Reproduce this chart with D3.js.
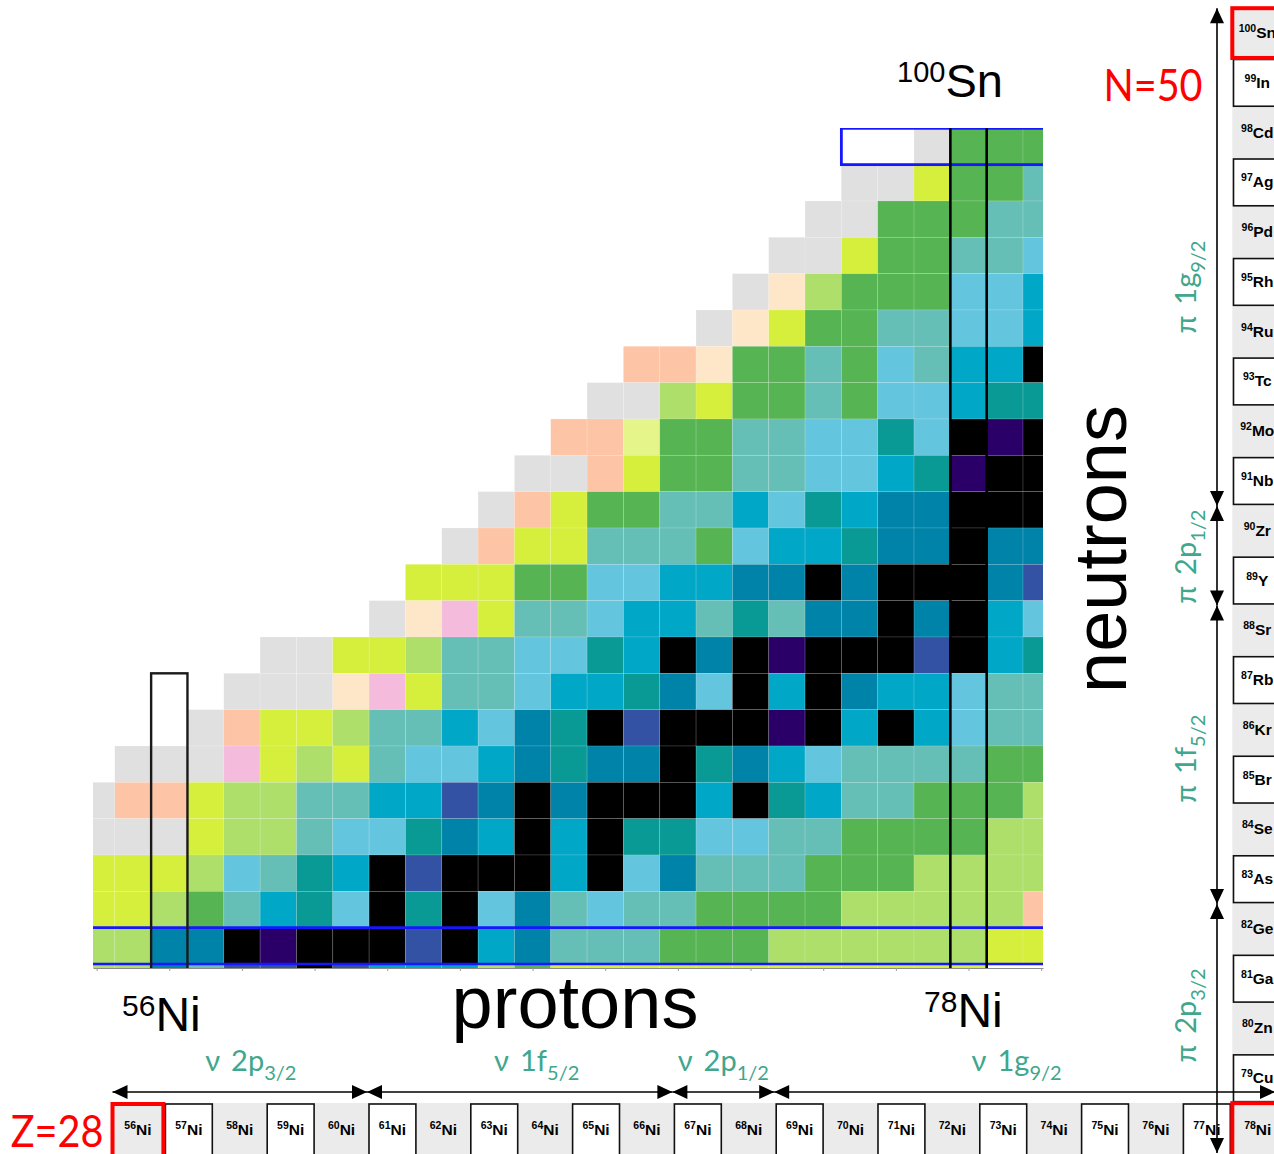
<!DOCTYPE html>
<html>
<head>
<meta charset="utf-8">
<script src="https://cdn.jsdelivr.net/npm/d3@7"></script>
<style>
  html, body { margin: 0; padding: 0; background: #fff; }
  svg { display: block; }
</style>
</head>
<body>
<script>
// ---- Map data -------------------------------------------------------------
// Rows are proton numbers Z (top to bottom), columns neutron numbers N.
const protonNumbers = d3.range(50, 26, -1);           // 50 … 27
// first neutron number that carries a cell in each row
const rowFirstN = [47, 47, 46, 45, 44, 43, 41, 40, 39, 38, 37, 36,
                   35, 34, 31, 30, 29, 27, 26, 26, 26, 26, 26, 26];
// one category code per cell, starting at rowFirstN
const rowCodes = [
  "wwgGGG",                       // Z=50
  "ggyGGt",                       // Z=49
  "ggGGGtt",                      // Z=48
  "ggyGGtts",                     // Z=47
  "gclGGGssb",                    // Z=46
  "gcyGGttssb",                   // Z=45
  "ppcGGtGstbbx",                 // Z=44
  "gglyGGtGssbdd",                // Z=43
  "ppzGGttssdsxvx",               // Z=42
  "ggpyGGttssbdvxx",              // Z=41
  "gpyGGttbsdbBBxxx",             // Z=40
  "gpyytttGsbbdBBxBB",            // Z=39
  "yyyGGssbbBBxBxxxBi",           // Z=38
  "gckyttsbbtdtBBxBxbs",          // Z=37
  "ggyylttssdbxBxvxxxixbd",       // Z=36
  "gggckyttsbbdBsxbxBbbstt",      // Z=35
  "gpyylttbsBdxixxxvxbxbstt",     // Z=34
  "gggkylytssbBdBBxdBbsttttGG",   // Z=33
  "gppyllttbbiBxBxxxbxdbttGGGl",  // Z=32
  "gggylltssdBbxbxddssttGGGGll",  // Z=31
  "yyylstdbxixxxbxsBtttGGGllll",  // Z=30
  "yylGtbdsxdxsBtsttGGGGlllllp",  // Z=29
  "llBBxvxxxixbBtttGGGllllllyy",  // Z=28
  "llBtiixibbblGyyyyyyyyyyyyww"   // Z=27
];
const categoryCodes  = ["w", "g", "p", "c", "k", "z", "y", "l", "G", "t", "s", "b", "d", "B", "i", "v", "x"];
const categoryColors = ["#ffffff", "#e0e0e0", "#fdc5a6", "#fee6c8", "#f4bbdd", "#e6f58a", "#d6ef3c",
                        "#addf6a", "#56b552", "#66bfb6", "#64c5de", "#00a7c6", "#0a9a96", "#0083a8",
                        "#3352a3", "#2a0068", "#000000"];
const evenTickN = d3.range(26, 53, 2);

// ---- Nuclide strips -------------------------------------------------------
const nickelMass = d3.range(56, 79);                   // Z = 28 chain
const isotoneZ = d3.range(50, 27, -1);                 // N = 50 chain
const isotoneMass = d3.range(100, 77, -1);
const isotoneElement = ["Sn", "In", "Cd", "Ag", "Pd", "Rh", "Ru", "Tc", "Mo", "Nb", "Zr", "Y",
                        "Sr", "Rb", "Kr", "Br", "Se", "As", "Ge", "Ga", "Zn", "Cu", "Ni"];

// ---- Shell-model orbitals -------------------------------------------------
const neutronOrbital = ["2p", "1f", "2p", "1g"];
const neutronJ = ["3/2", "5/2", "1/2", "9/2"];
const neutronFirstA = [56, 61, 67, 69];
const neutronLastA = [60, 66, 68, 78];
const protonOrbital = ["1g", "2p", "1f", "2p"];
const protonJ = ["9/2", "1/2", "5/2", "3/2"];
const protonFirstZ = [50, 40, 38, 32];
const protonLastZ = [41, 39, 33, 28];

// ---- Drawing --------------------------------------------------------------
const W = 1274, H = 1154;
const SANS = "'Liberation Sans', Arial, sans-serif";
const SOFT = "Lato, 'Noto Sans', sans-serif";
const TEAL = "#40a68c";

const svg = d3.select("body").append("svg").attr("width", W).attr("height", H);

const x = d3.scaleLinear().domain([25.9, 52.05]).range([93, 1043]);
const y = d3.scaleLinear().domain([27.39, 50.5]).range([968, 128.3]);
const color = d3.scaleOrdinal().domain(categoryCodes).range(categoryColors);

svg.append("clipPath").attr("id", "plot-area")
  .append("rect").attr("x", 93).attr("y", 128).attr("width", 950).attr("height", 840);

const cells = [];
protonNumbers.forEach((Z, i) => {
  const codes = rowCodes[i];
  for (let j = 0; j < codes.length; j++) {
    cells.push({ Z, N: rowFirstN[i] + j, code: codes[j] });
  }
});

const plot = svg.append("g").attr("clip-path", "url(#plot-area)");
plot.selectAll("rect.cell").data(cells).join("rect")
  .attr("class", "cell")
  .attr("x", d => x(d.N - 0.5))
  .attr("y", d => y(d.Z + 0.5))
  .attr("width", d => x(d.N + 0.5) - x(d.N - 0.5))
  .attr("height", d => y(d.Z - 0.5) - y(d.Z + 0.5))
  .attr("fill", d => color(d.code))
  .attr("stroke", "rgba(255,255,255,0.2)")
  .attr("stroke-width", 0.7);

// Z = 28 row and the Z = 50 row (blue frames)
const blue = "#1616ff";
[28.5, 27.5].forEach(v => {
  plot.append("line")
    .attr("x1", x(25.9)).attr("x2", x(52.05))
    .attr("y1", y(v)).attr("y2", y(v))
    .attr("stroke", blue).attr("stroke-width", 2.6);
});
plot.append("rect")
  .attr("x", x(46.5)).attr("y", y(50.5))
  .attr("width", x(52.5) - x(46.5)).attr("height", y(49.5) - y(50.5))
  .attr("fill", "none").attr("stroke", blue).attr("stroke-width", 2.8);

// N = 50 column (78Ni … 100Sn)
[49.5, 50.5].forEach(v => {
  plot.append("line")
    .attr("x1", x(v)).attr("x2", x(v))
    .attr("y1", y(50.5)).attr("y2", y(27.39))
    .attr("stroke", "#000").attr("stroke-width", 2.6);
});
// N = 28 column starting at 56Ni
plot.append("rect")
  .attr("x", x(27.5)).attr("y", y(35.5))
  .attr("width", x(28.5) - x(27.5)).attr("height", y(27.39) - y(35.5) + 4)
  .attr("fill", "none").attr("stroke", "#1a1a1a").attr("stroke-width", 2.4);

// bottom axis with small ticks at even neutron numbers
const axis = svg.append("g").attr("transform", "translate(0,968)")
  .call(d3.axisBottom(x).tickValues(evenTickN).tickSize(3).tickSizeOuter(0).tickFormat(""));
axis.select(".domain").attr("stroke", "#8a8a8a").attr("stroke-width", 1.2);
axis.selectAll(".tick line").attr("stroke", "#9a9a9a");

// ---- Text helpers ---------------------------------------------------------
function nuclideText(g, mass, element, opts) {
  const t = g.append("text")
    .attr("x", opts.x).attr("y", opts.y)
    .attr("text-anchor", opts.anchor || "start")
    .attr("font-family", SANS)
    .attr("font-weight", opts.weight || "normal")
    .attr("fill", "#000");
  t.append("tspan").attr("font-size", opts.small).attr("dy", -opts.shift).text(mass);
  t.append("tspan").attr("font-size", opts.big).attr("dy", opts.shift).text(element);
  return t;
}

nuclideText(svg, "100", "Sn", { x: 897, y: 97, small: 29, big: 47, shift: 15 });
nuclideText(svg, "56", "Ni", { x: 122, y: 1031, small: 30, big: 48, shift: 15 });
nuclideText(svg, "78", "Ni", { x: 924, y: 1027, small: 30, big: 48, shift: 15 });

svg.append("text").attr("x", 575).attr("y", 1028)
  .attr("text-anchor", "middle").attr("font-family", SANS).attr("font-size", 74)
  .text("protons");
svg.append("text").attr("transform", "translate(1126,549) rotate(-90)")
  .attr("text-anchor", "middle").attr("font-family", SANS).attr("font-size", 74)
  .text("neutrons");

// magic-number captions in a narrow face: a horizontal squeeze of Lato
svg.append("text").attr("transform", "translate(1153,101) scale(0.9,1)")
  .attr("text-anchor", "middle")
  .attr("font-family", SOFT).attr("font-size", 44).attr("fill", "#ff0000")
  .text("N=50");
svg.append("text").attr("transform", "translate(57,1147) scale(0.88,1)")
  .attr("text-anchor", "middle")
  .attr("font-family", SOFT).attr("font-size", 45).attr("fill", "#ff0000")
  .text("Z=28");

// ---- N = 50 strip (isotones), drawn first so the shared corner stays on top
const yb = d3.scaleBand().domain(isotoneZ).range([8.2, 8.2 + 23 * 49.77]);
const col = svg.append("g");
col.append("rect").attr("x", 1232.3).attr("y", yb(50))
  .attr("width", 60).attr("height", yb(28) - yb(50)).attr("fill", "#ebebeb");
col.selectAll("rect.odd").data(isotoneZ.filter(z => z % 2 === 1)).join("rect")
  .attr("class", "odd")
  .attr("x", 1233.5).attr("y", z => yb(z) + 1.5)
  .attr("width", 60).attr("height", yb.bandwidth() - 3)
  .attr("fill", "#fff").attr("stroke", "#111").attr("stroke-width", 1.6);
isotoneZ.forEach((z, i) => {
  if (z === 28) return; // shared corner box is labelled by the nickel strip
  nuclideText(col, String(isotoneMass[i]), isotoneElement[i], {
    x: 1257.3, y: yb(z) + yb.bandwidth() / 2 + 5, anchor: "middle",
    small: 10.5, big: 15.5, shift: 6, weight: "bold"
  });
});

// ---- Z = 28 strip (nickel chain) -----------------------------------------
const xb = d3.scaleBand().domain(nickelMass).range([112.5, 112.5 + 23 * 50.9]);
const strip = svg.append("g");
strip.append("rect").attr("x", xb(56)).attr("y", 1103)
  .attr("width", xb.range()[1] - xb(56)).attr("height", 60).attr("fill", "#ebebeb");
strip.selectAll("rect.odd").data(nickelMass.filter(a => a % 2 === 1)).join("rect")
  .attr("class", "odd")
  .attr("x", a => xb(a) + 2).attr("y", 1104)
  .attr("width", xb.bandwidth() - 4).attr("height", 60)
  .attr("fill", "#fff").attr("stroke", "#111").attr("stroke-width", 1.6);
nickelMass.forEach(a => {
  nuclideText(strip, String(a), "Ni", {
    x: xb(a) + xb.bandwidth() / 2, y: 1135, anchor: "middle",
    small: 10.5, big: 15.5, shift: 6, weight: "bold"
  });
});

// doubly magic corners
svg.append("rect").attr("x", xb(56)).attr("y", 1104)
  .attr("width", xb.bandwidth()).attr("height", 60)
  .attr("fill", "none").attr("stroke", "#ff0000").attr("stroke-width", 4);
svg.append("rect").attr("x", xb(78)).attr("y", yb(28))
  .attr("width", xb.bandwidth()).attr("height", 60)
  .attr("fill", "none").attr("stroke", "#ff0000").attr("stroke-width", 4);
svg.append("rect").attr("x", 1232.3).attr("y", yb(50))
  .attr("width", 60).attr("height", yb.bandwidth())
  .attr("fill", "none").attr("stroke", "#ff0000").attr("stroke-width", 4);

// ---- Orbital arrows -------------------------------------------------------
const arrows = svg.append("g");
function head(tx, ty, dir) {
  const L = 15, h = 7;
  let p;
  if (dir === "right") p = [[tx, ty], [tx - L, ty - h], [tx - L, ty + h]];
  if (dir === "left")  p = [[tx, ty], [tx + L, ty - h], [tx + L, ty + h]];
  if (dir === "up")    p = [[tx, ty], [tx - h, ty + L], [tx + h, ty + L]];
  if (dir === "down")  p = [[tx, ty], [tx - h, ty - L], [tx + h, ty - L]];
  arrows.append("path").attr("d", "M" + p.join("L") + "Z").attr("fill", "#000");
}
function label(g, orbit, j, greek, size, subSize, subDy) {
  const t = g.append("text").attr("font-family", SOFT).attr("fill", TEAL)
    .attr("text-anchor", "middle");
  t.append("tspan").attr("font-size", size).text(greek + "\u2009 " + orbit);
  t.append("tspan").attr("font-size", subSize).attr("dy", subDy).text(j);
  return t;
}
// label offsets along each arrow, in pixels
const neutronLabelNudge = [11, 17, 0, -8];
const protonLabelNudge = [30, 1, 4, -13];

const hy = 1092;
neutronOrbital.forEach((orb, i) => {
  const x0 = xb(neutronFirstA[i]);
  const x1 = Math.min(xb(neutronLastA[i]) + xb.bandwidth(), 1275);
  arrows.append("line").attr("x1", x0).attr("x2", x1).attr("y1", hy).attr("y2", hy)
    .attr("stroke", "#000").attr("stroke-width", 1.6);
  head(x0, hy, "left");
  head(x1, hy, "right");
  const g = svg.append("g")
    .attr("transform", `translate(${(x0 + x1) / 2 + neutronLabelNudge[i]},1071)`);
  label(g, orb, neutronJ[i], "\u03bd", 29, 20, 9);
});

const vx = 1217;
protonOrbital.forEach((orb, i) => {
  const y0 = yb(protonFirstZ[i]);
  const y1 = yb(protonLastZ[i]) + yb.bandwidth();
  arrows.append("line").attr("x1", vx).attr("x2", vx).attr("y1", y0).attr("y2", y1)
    .attr("stroke", "#000").attr("stroke-width", 1.6);
  head(vx, y0, "up");
  head(vx, y1, "down");
  const g = svg.append("g")
    .attr("transform", `translate(1196,${(y0 + y1) / 2 + protonLabelNudge[i]}) rotate(-90)`);
  label(g, orb, protonJ[i], "\u03c0", 29, 20, 9);
});
</script>
</body>
</html>
